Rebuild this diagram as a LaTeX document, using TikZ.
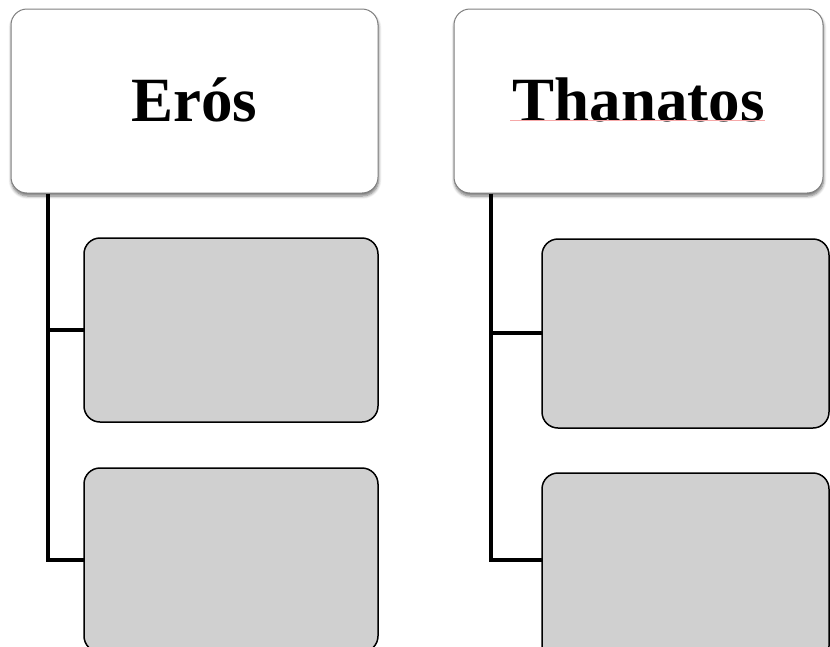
\documentclass[tikz,border=0pt]{standalone}
\usepackage{fontspec}
\setmainfont{Liberation Serif}
\usetikzlibrary{shadows.blur}
\definecolor{childgray}{HTML}{D0D0D0}
\definecolor{headborder}{HTML}{7F7F7F}
\definecolor{squiggle}{HTML}{F6A8A8}
\begin{document}
\begin{tikzpicture}[x=1pt,y=-1pt,
  headbox/.style={draw=headborder,line width=1pt,fill=white,rounded corners=16pt,
    minimum width=#1,minimum height=184pt,inner sep=0pt,
    font=\bfseries\fontsize{63}{70}\selectfont,
    blur shadow={shadow xshift=0.5pt,shadow yshift=-3pt,shadow blur steps=6,shadow blur radius=3pt,shadow opacity=55}},
  childbox/.style={draw=black,line width=1.5pt,fill=childgray,rounded corners=16pt,
    minimum width=#1,inner sep=0pt},
  link/.style={line width=4.6pt,line join=miter,line cap=butt}]
\useasboundingbox (0,0) rectangle (830,646);
% headers
\node[headbox=367pt] (h1) at (194.5,101) {\raisebox{2pt}{Erós}};
\node[headbox=369pt] (h2) at (638.5,101) {\raisebox{2pt}{Thanatos}};
% coordinates for trunks
\coordinate (lb) at (48,560);
\coordinate (rb) at (491,560);
% connectors (behind boxes)
\draw[link] (h1.south -| lb) -- (lb) -- (84,560);
\draw[link] (48,330) -- (84,330);
\draw[link] (h2.south -| rb) -- (rb) -- (543,560);
\draw[link] (491,333) -- (543,333);
% children
\node[childbox=294pt,minimum height=184pt] (l1) at (231,330) {};
\node[childbox=294pt,minimum height=184pt] (l2) at (231,560) {};
\node[childbox=287pt,minimum height=189pt] (r1) at (685.5,333.5) {};
\node[childbox=287pt,minimum height=189pt] (r2) at (685.5,567.5) {};
% spell-check underline
\draw[squiggle,line width=0.5pt] (510,120.5) -- (765,120.5);
\end{tikzpicture}
\end{document}
